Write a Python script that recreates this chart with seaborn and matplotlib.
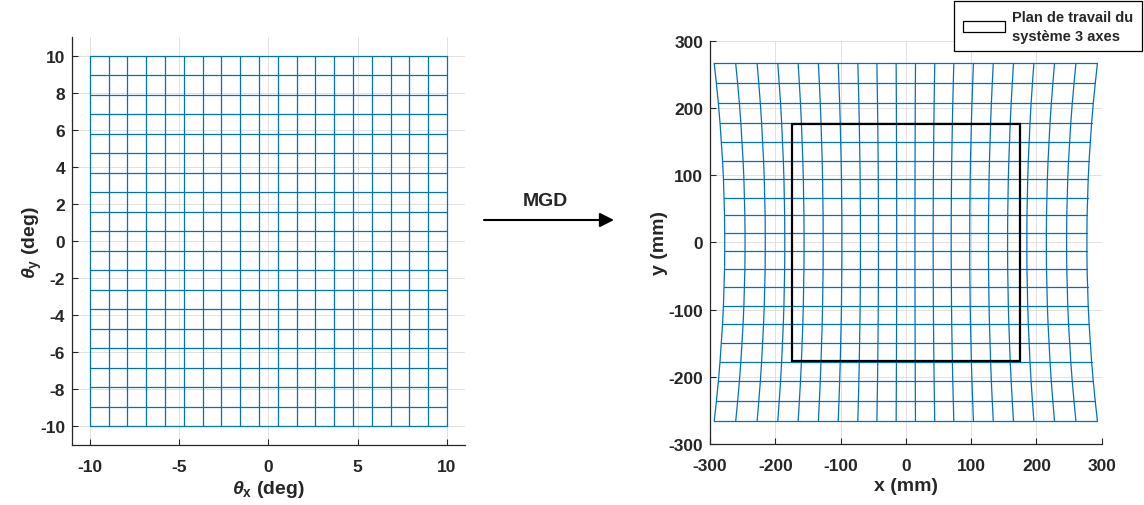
"""Mirror-angle grid and its image in the work plane (MGD)."""

import matplotlib
matplotlib.use("Agg")
import matplotlib.pyplot as plt
import pandas as pd
import seaborn as sns
from matplotlib.patches import Patch, FancyArrowPatch

# mirror angles of the scan grid (deg)
theta_x = [-10.0, -8.947, -7.895, -6.842, -5.789, -4.737, -3.684, -2.632, -1.579, -0.526,
           0.526, 1.579, 2.632, 3.684, 4.737, 5.789, 6.842, 7.895, 8.947, 10.0]
theta_y = [-10.0, -8.947, -7.895, -6.842, -5.789, -4.737, -3.684, -2.632, -1.579, -0.526,
           0.526, 1.579, 2.632, 3.684, 4.737, 5.789, 6.842, 7.895, 8.947, 10.0]

# image of the grid in the plane (mm)
row_y = [-266.2, -236.4, -206.6, -177.9, -149.6, -121.5, -94.0, -66.7, -40.2, -13.4,
         13.4, 40.2, 66.7, 94.0, 121.5, 149.6, 177.9, 206.6, 236.4, 266.2]
col_x_mid = [-277.4, -246.3, -215.3, -185.4, -155.9, -126.6, -97.9, -69.5, -41.9, -14.0,
             14.0, 41.9, 69.5, 97.9, 126.6, 155.9, 185.4, 215.3, 246.3, 277.4]
row_stretch = [1.058, 1.046, 1.035, 1.026, 1.019, 1.012, 1.007, 1.004, 1.001, 1.000,
               1.000, 1.001, 1.004, 1.007, 1.012, 1.019, 1.026, 1.035, 1.046, 1.058]

# 3-axis machine workspace (mm)
work_x = [-175, 175, 175, -175, -175]
work_y = [-176, -176, 176, 176, -176]

LINE_BLUE = "#0072BD"
AX_GRAY = "#262626"
TICK_SIZE = 12.5
LABEL_SIZE = 14


def grid_lines(xs, ys):
    """Long-form table of row and column polylines for a mesh xs[j][i], ys[j][i]."""
    recs = []
    n_rows, n_cols = len(xs), len(xs[0])
    for j in range(n_rows):
        for i in range(n_cols):
            recs.append({"line": f"r{j}", "order": i, "x": xs[j][i], "y": ys[j][i]})
    for i in range(n_cols):
        for j in range(n_rows):
            recs.append({"line": f"c{i}", "order": j, "x": xs[j][i], "y": ys[j][i]})
    return pd.DataFrame(recs)


def style_axes(ax):
    ax.grid(True, color="#dcdcdc", linewidth=0.6)
    ax.set_axisbelow(True)
    for side in ["top", "right"]:
        ax.spines[side].set_visible(False)
    for side in ["left", "bottom"]:
        ax.spines[side].set_color(AX_GRAY)
        ax.spines[side].set_linewidth(0.9)
    ax.tick_params(direction="in", length=4, width=0.8, colors=AX_GRAY,
                   labelsize=TICK_SIZE, labelcolor=AX_GRAY, pad=5)
    ax.tick_params(axis="x", pad=10)
    for lab in ax.get_xticklabels() + ax.get_yticklabels():
        lab.set_fontweight("bold")


sns.set_theme(style="ticks")
plt.rcParams["font.family"] = ["Liberation Sans", "DejaVu Sans"]
plt.rcParams["font.weight"] = "bold"
plt.rcParams["mathtext.fontset"] = "custom"
plt.rcParams["mathtext.it"] = "Liberation Sans:italic"
plt.rcParams["mathtext.bf"] = "Liberation Sans:bold"
plt.rcParams["mathtext.rm"] = "Liberation Sans:bold"

fig = plt.figure(figsize=(11.44, 5.06), dpi=100)
ax1 = fig.add_axes([0.0629, 0.1186, 0.3435, 0.806])
ax2 = fig.add_axes([0.6206, 0.1206, 0.3424, 0.797])

# angle grid
ang_x = [[tx for tx in theta_x] for ty in theta_y]
ang_y = [[ty for tx in theta_x] for ty in theta_y]
df_ang = grid_lines(ang_x, ang_y)
sns.lineplot(data=df_ang, x="x", y="y", units="line", estimator=None, sort=False,
             color=LINE_BLUE, linewidth=0.9, ax=ax1)
ax1.set_xlim(-11, 11)
ax1.set_ylim(-11, 11)
ax1.set_xticks([-10, -5, 0, 5, 10])
ax1.set_xticklabels(["-10", "-5", "0", "5", "10"])
ax1.set_yticks(list(range(-10, 11, 2)))
ax1.set_yticklabels([str(v) for v in range(-10, 11, 2)])
ax1.set_xlabel(r"$\theta_\mathbf{x}$ (deg)", fontsize=LABEL_SIZE, fontweight="bold",
               color=AX_GRAY, labelpad=3)
ax1.set_ylabel(r"$\theta_\mathbf{y}$ (deg)", fontsize=LABEL_SIZE, fontweight="bold",
               color=AX_GRAY, labelpad=-3)
style_axes(ax1)

# plane grid
pl_x = [[cx * s for cx in col_x_mid] for s in row_stretch]
pl_y = [[ry for cx in col_x_mid] for ry in row_y]
df_pl = grid_lines(pl_x, pl_y)
sns.lineplot(data=df_pl, x="x", y="y", units="line", estimator=None, sort=False,
             color=LINE_BLUE, linewidth=0.9, ax=ax2)
ax2.plot(work_x, work_y, color="black", linewidth=1.6, solid_joinstyle="miter")
ax2.set_xlim(-300, 300)
ax2.set_ylim(-300, 300)
ticks = list(range(-300, 301, 100))
ax2.set_xticks(ticks)
ax2.set_xticklabels([str(v) for v in ticks])
ax2.set_yticks(ticks)
ax2.set_yticklabels([str(v) for v in ticks])
ax2.set_xlabel("x (mm)", fontsize=LABEL_SIZE, fontweight="bold", color=AX_GRAY, labelpad=3)
ax2.set_ylabel("y (mm)", fontsize=LABEL_SIZE, fontweight="bold", color=AX_GRAY, labelpad=0)
style_axes(ax2)

handle = Patch(facecolor="white", edgecolor="black", linewidth=0.9)
leg = fig.legend([handle], ["Plan de travail du\nsystème 3 axes"],
                 loc="upper right", bbox_to_anchor=(1142 / 1144, 1 - 2 / 506),
                 fancybox=False, framealpha=1, edgecolor="black",
                 prop={"size": 10.5, "weight": "bold"}, handlelength=2.9,
                 handleheight=0.75, borderpad=0.6, handletextpad=0.5,
                 borderaxespad=0)
leg.get_frame().set_linewidth(0.9)
leg.get_texts()[0].set_linespacing(1.45)

# MGD arrow between the two panels
fig.text(545 / 1144, 1 - 202 / 506, "MGD", ha="center", va="center",
         fontsize=LABEL_SIZE, fontweight="bold")
fig.add_artist(FancyArrowPatch(
    (484 / 1144, 1 - 221 / 506), (614 / 1144, 1 - 221 / 506),
    transform=fig.transFigure, arrowstyle="-|>,head_length=8.5,head_width=4.3",
    color="black", linewidth=1.5, shrinkA=0, shrinkB=0))

fig.savefig("out.png", dpi=100)
plt.close(fig)
